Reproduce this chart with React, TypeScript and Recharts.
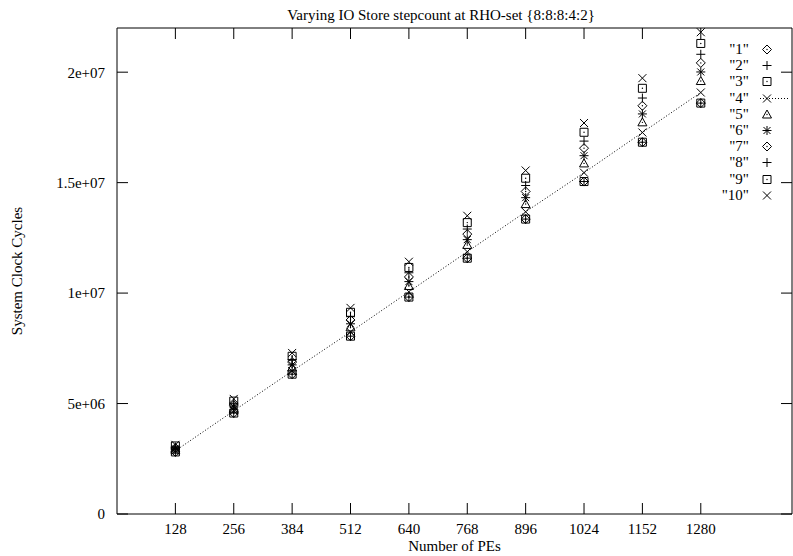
import React from "react";
import { ScatterChart, Scatter, XAxis, YAxis } from "recharts";

// Number of PEs (x categories / ticks)
const PES = [128, 256, 384, 512, 640, 768, 896, 1024, 1152, 1280];
const Y_TICKS = [0, 5e6, 1e7, 1.5e7, 2e7];

// System clock cycles, in millions, one list per stepcount run
const RUN_1 = [2.81, 4.57, 6.33, 8.05, 9.82, 11.58, 13.35, 15.05, 16.83, 18.6];
const RUN_2 = [2.81, 4.57, 6.33, 8.05, 9.82, 11.58, 13.35, 15.05, 16.83, 18.6];
const RUN_3 = [2.81, 4.57, 6.33, 8.05, 9.82, 11.58, 13.35, 15.05, 16.83, 18.6];
const RUN_4 = [2.86, 4.67, 6.47, 8.24, 10.06, 11.87, 13.68, 15.45, 17.27, 19.08];
const RUN_5 = [2.91, 4.77, 6.63, 8.45, 10.32, 12.18, 14.03, 15.87, 17.73, 19.6];
const RUN_6 = [2.95, 4.85, 6.75, 8.61, 10.52, 12.42, 14.32, 16.22, 18.11, 20.01];
const RUN_7 = [2.99, 4.93, 6.88, 8.78, 10.73, 12.67, 14.6, 16.56, 18.48, 20.42];
const RUN_8 = [3.03, 5.01, 6.99, 8.93, 10.92, 12.9, 14.87, 16.88, 18.83, 20.81];
const RUN_9 = [3.08, 5.11, 7.14, 9.13, 11.16, 13.19, 15.2, 17.28, 19.27, 21.3];
const RUN_10 = [3.13, 5.21, 7.29, 9.33, 11.42, 13.5, 15.55, 17.7, 19.73, 21.81];

type Kind = "diamond" | "plus" | "square" | "cross" | "triangle" | "star";

const SERIES: { name: string; values: number[]; kind: Kind; line?: boolean }[] = [
    { name: '"1"', values: RUN_1, kind: "diamond" },
    { name: '"2"', values: RUN_2, kind: "plus" },
    { name: '"3"', values: RUN_3, kind: "square" },
    { name: '"4"', values: RUN_4, kind: "cross", line: true },
    { name: '"5"', values: RUN_5, kind: "triangle" },
    { name: '"6"', values: RUN_6, kind: "star" },
    { name: '"7"', values: RUN_7, kind: "diamond" },
    { name: '"8"', values: RUN_8, kind: "plus" },
    { name: '"9"', values: RUN_9, kind: "square" },
    { name: '"10"', values: RUN_10, kind: "cross" },
];

const FONT = "'Liberation Serif', 'DejaVu Serif', serif";
const INK = "#000";
const FS = 15;

// gnuplot-style %g labels: 5e+06, 1.5e+07 ...
function fmtY(v: number) {
    if (v === 0) return "0";
    const [m, e] = v.toExponential().split("e");
    const sign = e[0] === "-" ? "-" : "+";
    const digits = e.replace(/[+-]/, "").padStart(2, "0");
    return `${m}e${sign}${digits}`;
}

function Marker({ cx, cy, kind }: { cx: number; cy: number; kind: Kind }) {
    const r = 4.5;
    let d = "";
    let dot = false;
    switch (kind) {
        case "diamond":
            d = `M${cx},${cy - r}L${cx + r},${cy}L${cx},${cy + r}L${cx - r},${cy}Z`;
            dot = true;
            break;
        case "plus":
            d = `M${cx - r},${cy}H${cx + r}M${cx},${cy - r}V${cy + r}`;
            break;
        case "square":
            d = `M${cx - 4},${cy - 4}h8v8h-8Z`;
            dot = true;
            break;
        case "cross":
            d = `M${cx - 4},${cy - 4}L${cx + 4},${cy + 4}M${cx + 4},${cy - 4}L${cx - 4},${cy + 4}`;
            break;
        case "triangle":
            d = `M${cx},${cy - 4.5}L${cx + 4.5},${cy + 3.5}L${cx - 4.5},${cy + 3.5}Z`;
            dot = true;
            break;
        case "star":
            d = `M${cx - r},${cy}H${cx + r}M${cx},${cy - r}V${cy + r}` +
                `M${cx - 3.5},${cy - 3.5}L${cx + 3.5},${cy + 3.5}M${cx + 3.5},${cy - 3.5}L${cx - 3.5},${cy + 3.5}`;
            break;
    }
    return (
        <g>
            <path d={d} stroke={INK} strokeWidth={1} fill="none" />
            {dot && <circle cx={cx} cy={cy} r={0.7} fill={INK} />}
        </g>
    );
}

const tickStyle = { fill: INK, fontSize: FS, fontFamily: FONT };

function KeyBox() {
    return (
        <div style={{ position: "absolute", left: 690, top: 41, width: 103 }}>
            {SERIES.map((s) => (
                <div key={s.name} style={{ position: "relative", height: 16.2 }}>
                    <span
                        style={{
                            position: "absolute", right: 44, top: 0, lineHeight: "16px",
                            fontSize: FS, fontFamily: FONT, color: INK, whiteSpace: "nowrap",
                        }}
                    >
                        {s.name}
                    </span>
                    <svg width={103} height={16} style={{ position: "absolute", left: 0, top: 0 }}>
                        {s.line && (
                            <line x1={70} x2={100} y1={8.5} y2={8.5} stroke={INK} strokeWidth={1} strokeDasharray="1 2" />
                        )}
                        <Marker cx={77} cy={8.5} kind={s.kind} />
                    </svg>
                </div>
            ))}
        </div>
    );
}

const frameData = PES.map((x, i) => ({ x, y: RUN_1[i] * 1e6 }));

export default function App() {
    return (
        <div style={{ position: "absolute", left: 0, top: 0, width: 793, height: 556, background: "#fff", fontFamily: FONT }}>
            <ScatterChart width={793} height={556} margin={{ top: 27, right: 0, bottom: 0, left: 0 }}>
                <XAxis
                    xAxisId="b"
                    type="number"
                    dataKey="x"
                    domain={[0, 1480]}
                    allowDataOverflow
                    ticks={PES}
                    height={42}
                    tickSize={-11}
                    tickMargin={20}
                    axisLine={{ stroke: INK }}
                    tickLine={{ stroke: INK }}
                    tick={tickStyle}
                />
                <XAxis
                    xAxisId="t"
                    orientation="top"
                    type="number"
                    dataKey="x"
                    domain={[0, 1480]}
                    allowDataOverflow
                    ticks={PES}
                    height={1}
                    tickSize={-11}
                    tickFormatter={() => ""}
                    axisLine={{ stroke: INK }}
                    tickLine={{ stroke: INK }}
                />
                <YAxis
                    yAxisId="l"
                    type="number"
                    dataKey="y"
                    domain={[0, 2.2e7]}
                    allowDataOverflow
                    ticks={Y_TICKS}
                    width={117}
                    tickSize={-11}
                    tickMargin={23}
                    tickFormatter={fmtY}
                    axisLine={{ stroke: INK }}
                    tickLine={{ stroke: INK }}
                    tick={tickStyle}
                />
                <YAxis
                    yAxisId="r"
                    orientation="right"
                    type="number"
                    dataKey="y"
                    domain={[0, 2.2e7]}
                    allowDataOverflow
                    ticks={Y_TICKS}
                    width={1}
                    tickSize={-11}
                    tickFormatter={() => ""}
                    axisLine={{ stroke: INK }}
                    tickLine={{ stroke: INK }}
                />
                {/* invisible series so the mirrored border axes get drawn */}
                <Scatter
                    xAxisId="t"
                    yAxisId="r"
                    data={frameData}
                    isAnimationActive={false}
                    shape={() => <g />}
                />
                {SERIES.map((s) => (
                    <Scatter
                        key={s.name}
                        name={s.name}
                        xAxisId="b"
                        yAxisId="l"
                        data={PES.map((x, i) => ({ x, y: s.values[i] * 1e6 }))}
                        fill={INK}
                        isAnimationActive={false}
                        line={s.line ? { stroke: INK, strokeWidth: 1, strokeDasharray: "1 2" } : false}
                        lineType="joint"
                        shape={(p: any) => <Marker cx={p.cx} cy={p.cy} kind={s.kind} />}
                    />
                ))}
            </ScatterChart>
            <div style={{ position: "absolute", left: 0, width: 882, top: 6, textAlign: "center", fontSize: FS, lineHeight: "18px", color: INK }}>
                Varying IO Store stepcount at RHO-set {"{8:8:8:4:2}"}
            </div>
            <div style={{ position: "absolute", left: 117, width: 675, top: 537, textAlign: "center", fontSize: FS, lineHeight: "18px", color: INK }}>
                Number of PEs
            </div>
            <div
                style={{
                    position: "absolute", left: 17, top: 271, fontSize: FS, lineHeight: "18px", color: INK,
                    whiteSpace: "nowrap", transform: "translate(-50%, -50%) rotate(-90deg)",
                }}
            >
                System Clock Cycles
            </div>
            <KeyBox />
        </div>
    );
}
